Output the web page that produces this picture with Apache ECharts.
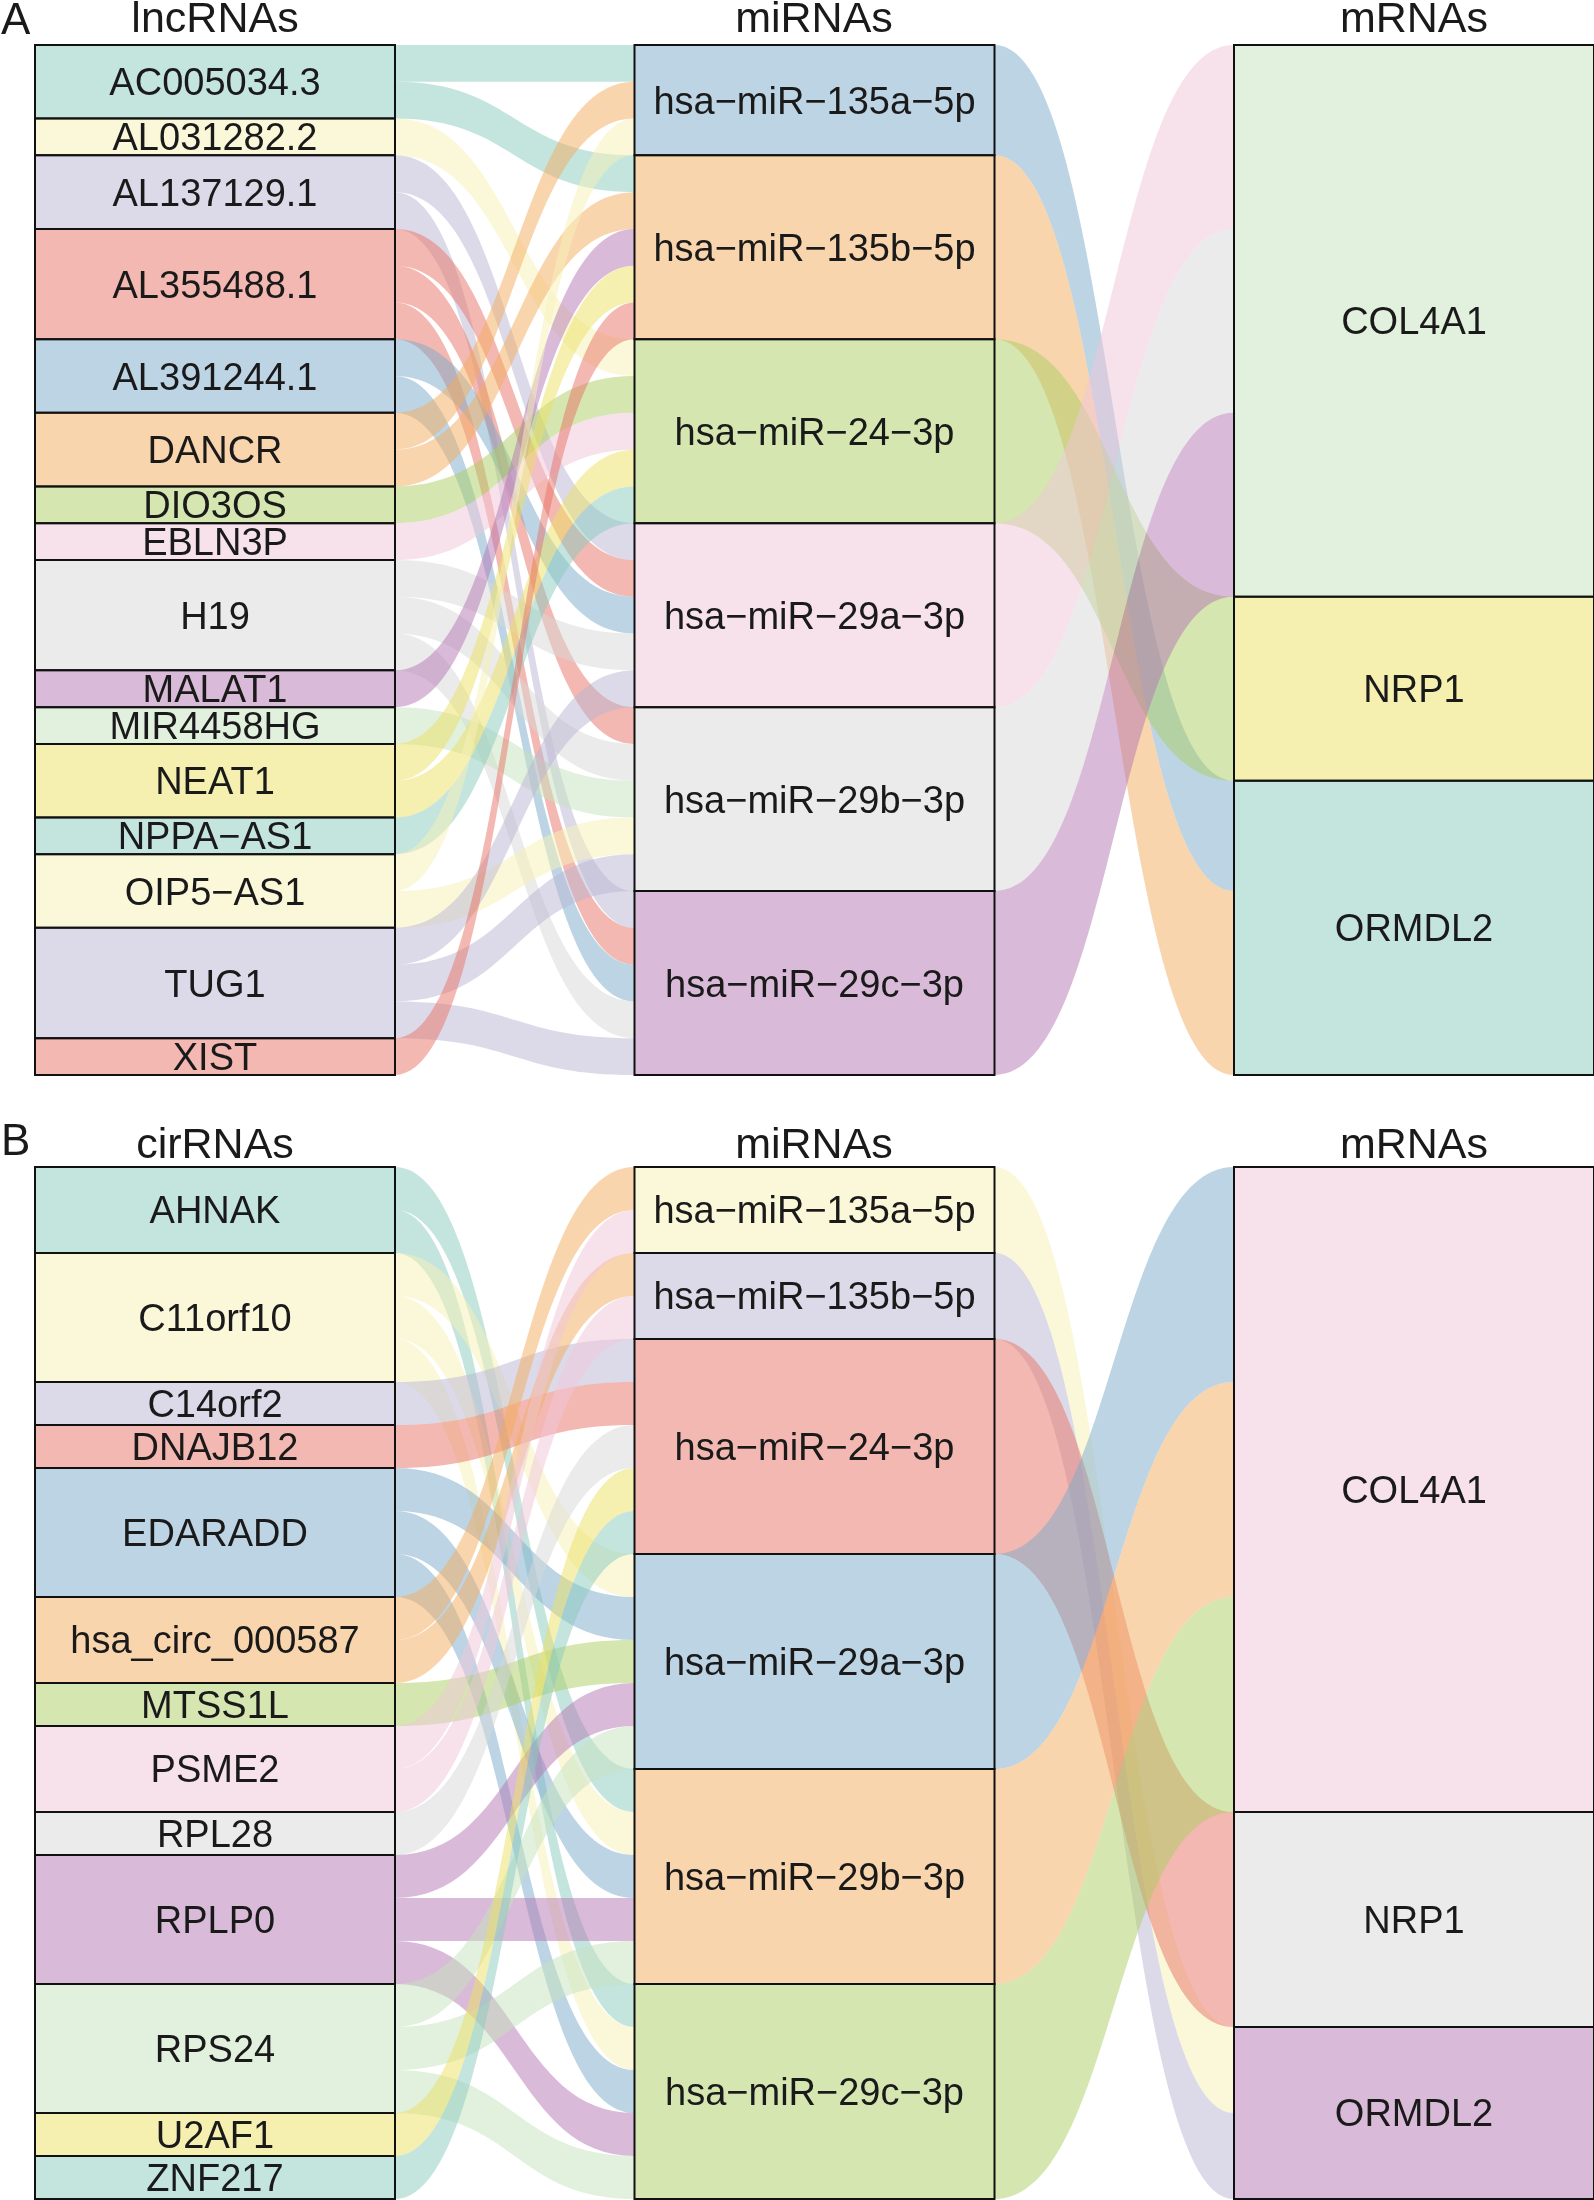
<!DOCTYPE html>
<html><head><meta charset="utf-8">
<script src="https://cdn.jsdelivr.net/npm/echarts@6/dist/echarts.min.js"></script>
<style>html,body{margin:0;padding:0;background:#fff}#c{width:1594px;height:2200px}</style>
</head><body><div id="c"></div>
<script>
// ---------- Panel A data ----------
const lncRNAs = ['AC005034.3','AL031282.2','AL137129.1','AL355488.1','AL391244.1','DANCR','DIO3OS','EBLN3P','H19','MALAT1','MIR4458HG','NEAT1','NPPA-AS1','OIP5-AS1','TUG1','XIST'];
const miRNAsA = ['hsa-miR-135a-5p','hsa-miR-135b-5p','hsa-miR-24-3p','hsa-miR-29a-3p','hsa-miR-29b-3p','hsa-miR-29c-3p'];
const mRNAsA = ['COL4A1','NRP1','ORMDL2'];
const lncToMiA = [
  ['AC005034.3','hsa-miR-135a-5p',1],['AC005034.3','hsa-miR-135b-5p',1],
  ['AL031282.2','hsa-miR-24-3p',1],
  ['AL137129.1','hsa-miR-29a-3p',1],['AL137129.1','hsa-miR-29c-3p',1],
  ['AL355488.1','hsa-miR-29a-3p',1],['AL355488.1','hsa-miR-29b-3p',1],['AL355488.1','hsa-miR-29c-3p',1],
  ['AL391244.1','hsa-miR-29a-3p',1],['AL391244.1','hsa-miR-29c-3p',1],
  ['DANCR','hsa-miR-135a-5p',1],['DANCR','hsa-miR-135b-5p',1],
  ['DIO3OS','hsa-miR-24-3p',1],
  ['EBLN3P','hsa-miR-24-3p',1],
  ['H19','hsa-miR-29a-3p',1],['H19','hsa-miR-29b-3p',1],['H19','hsa-miR-29c-3p',1],
  ['MALAT1','hsa-miR-135b-5p',1],
  ['MIR4458HG','hsa-miR-29b-3p',1],
  ['NEAT1','hsa-miR-135b-5p',1],['NEAT1','hsa-miR-24-3p',1],
  ['NPPA-AS1','hsa-miR-24-3p',1],
  ['OIP5-AS1','hsa-miR-135a-5p',1],['OIP5-AS1','hsa-miR-29b-3p',1],
  ['TUG1','hsa-miR-29a-3p',1],['TUG1','hsa-miR-29b-3p',1],['TUG1','hsa-miR-29c-3p',1],
  ['XIST','hsa-miR-135b-5p',1]
];
const miToMA = [
  ['hsa-miR-135a-5p','ORMDL2',3],['hsa-miR-135b-5p','ORMDL2',5],['hsa-miR-24-3p','NRP1',5],
  ['hsa-miR-29a-3p','COL4A1',5],['hsa-miR-29b-3p','COL4A1',5],['hsa-miR-29c-3p','COL4A1',5]
];
// ---------- Panel B data ----------
const circRNAs = ['AHNAK','C11orf10','C14orf2','DNAJB12','EDARADD','hsa_circ_000587','MTSS1L','PSME2','RPL28','RPLP0','RPS24','U2AF1','ZNF217'];
const miRNAsB = ['hsa-miR-135a-5p','hsa-miR-135b-5p','hsa-miR-24-3p','hsa-miR-29a-3p','hsa-miR-29b-3p','hsa-miR-29c-3p'];
const mRNAsB = ['COL4A1','NRP1','ORMDL2'];
const circToMiB = [
  ['AHNAK','hsa-miR-29b-3p',1],['AHNAK','hsa-miR-29c-3p',1],
  ['C11orf10','hsa-miR-29a-3p',1],['C11orf10','hsa-miR-29b-3p',1],['C11orf10','hsa-miR-29c-3p',1],
  ['C14orf2','hsa-miR-24-3p',1],
  ['DNAJB12','hsa-miR-24-3p',1],
  ['EDARADD','hsa-miR-29a-3p',1],['EDARADD','hsa-miR-29b-3p',1],['EDARADD','hsa-miR-29c-3p',1],
  ['hsa_circ_000587','hsa-miR-135a-5p',1],['hsa_circ_000587','hsa-miR-135b-5p',1],
  ['MTSS1L','hsa-miR-29a-3p',1],
  ['PSME2','hsa-miR-135a-5p',1],['PSME2','hsa-miR-135b-5p',1],
  ['RPL28','hsa-miR-24-3p',1],
  ['RPLP0','hsa-miR-29a-3p',1],['RPLP0','hsa-miR-29b-3p',1],['RPLP0','hsa-miR-29c-3p',1],
  ['RPS24','hsa-miR-29a-3p',1],['RPS24','hsa-miR-29b-3p',1],['RPS24','hsa-miR-29c-3p',1],
  ['U2AF1','hsa-miR-24-3p',1],
  ['ZNF217','hsa-miR-24-3p',1]
];
const miToMB = [
  ['hsa-miR-135a-5p','ORMDL2',2],['hsa-miR-135b-5p','ORMDL2',2],['hsa-miR-24-3p','NRP1',5],
  ['hsa-miR-29a-3p','COL4A1',5],['hsa-miR-29b-3p','COL4A1',5],['hsa-miR-29c-3p','COL4A1',5]
];
const headersA = ['lncRNAs','miRNAs','mRNAs'];
const headersB = ['cirRNAs','miRNAs','mRNAs'];

// ---------- styling ----------
// pastel (Set3-like) colours as they appear on white at half opacity
const tints = ['#C4E4DE','#FBF8DA','#DCDAE8','#F3B8B1','#BDD4E5','#F9D5AE','#D5E6B0','#F7E2EC','#EBEBEB','#D9BAD8','#E2F0DE','#F5EFB0'];
function halfAlpha(hex){
  const n=parseInt(hex.slice(1),16);
  const f=v=>Math.max(0,Math.min(255,2*v-255));
  return `rgba(${f(n>>16)},${f((n>>8)&255)},${f(n&255)},0.5)`;
}
const FONT = '"Liberation Sans", Arial, Helvetica, sans-serif';

function buildSeries(cols, links1, links2, top, height){
  const nodes = []; const colorOf = {};
  let k = 0;
  cols.forEach((col, d) => col.forEach(name => {
    const c = halfAlpha(tints[k % 12]); k++;
    colorOf[name] = c;
    nodes.push({name, depth: d, itemStyle: {color: c}});
  }));
  const links = links1.concat(links2).map(([s,t,v]) => ({source:s, target:t, value:v, lineStyle:{color: colorOf[s]}}));
  return {
    type:'sankey', left:35, right:0, top:top, height:height,
    nodeWidth:360, nodeGap:0, layoutIterations:0, draggable:false,
    nodeAlign:'justify', animation:false,
    emphasis:{disabled:true},
    data:nodes, links:links,
    itemStyle:{borderColor:'#111', borderWidth:2},
    lineStyle:{curveness:0.5, opacity:1},
    label:{position:'inside', offset:[0,3], color:'#1a1a1a', fontSize:38, fontFamily:FONT,
      formatter: p => p.name.replace(/-/g,'\u2212')}
  };
}

const colX = [215, 814, 1414];
function headerTexts(list, y){
  return list.map((t,i)=>({type:'text', x:colX[i], y:y, style:{text:t, fill:'#1a1a1a', font:'43px '+FONT, align:'center', verticalAlign:'middle'}}));
}

const chart = echarts.init(document.getElementById('c'), null, {renderer:'canvas'});
chart.setOption({
  backgroundColor:'#fff',
  animation:false,
  graphic: [
    {type:'text', x:1, y:22, style:{text:'A', fill:'#1a1a1a', font:'44px '+FONT, align:'left', verticalAlign:'middle'}},
    {type:'text', x:1, y:1143, style:{text:'B', fill:'#1a1a1a', font:'44px '+FONT, align:'left', verticalAlign:'middle'}},
  ].concat(headerTexts(headersA, 20)).concat(headerTexts(headersB, 1146)),
  series:[
    buildSeries([lncRNAs, miRNAsA, mRNAsA], lncToMiA, miToMA, 45, 1030),
    buildSeries([circRNAs, miRNAsB, mRNAsB], circToMiB, miToMB, 1167, 1032)
  ]
});
</script></body></html>
